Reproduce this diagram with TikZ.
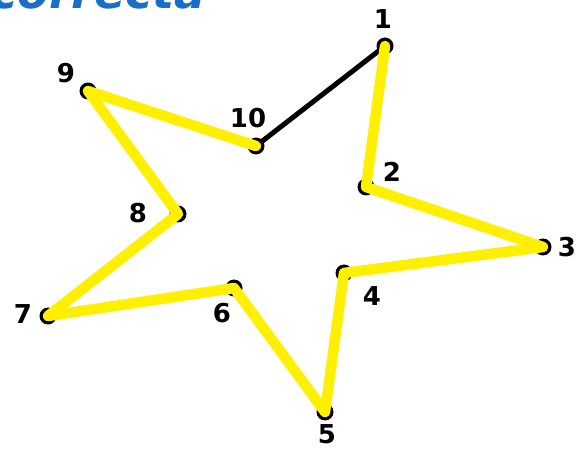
\documentclass[tikz,border=0pt]{standalone}
\usepackage{fontspec}
\setmainfont{DejaVu Sans}
\usetikzlibrary{positioning}
\definecolor{staryellow}{RGB}{255,240,0}
\definecolor{titleblue}{RGB}{25,110,200}

\begin{document}
\begin{tikzpicture}[x=1pt, y=-1pt,
  dot/.style={circle, fill=black, inner sep=0pt, minimum size=17pt},
  lbl/.style={inner sep=0pt, font=\fontsize{26}{26}\selectfont\bfseries},
  link/.style={staryellow, line width=10.5pt, line cap=round, line join=round},
  lastlink/.style={black, line width=5pt, line cap=round}
]
\useasboundingbox (0,0) rectangle (579,449);
\fill[white] (0,0) rectangle (579,449);

% title, cut at the top edge
\node[anchor=base west, inner sep=0pt, text=titleblue,
  font=\fontsize{46}{46}\selectfont\bfseries\itshape] (title) at (-10,9) {correcta};

% points of the star
\coordinate (p1) at (385,46);
\coordinate (p2) at (366,187);
\coordinate (p3) at (543,247);
\coordinate (p4) at (344,273);
\coordinate (p5) at (325,412);
\coordinate (p6) at (234,288);
\coordinate (p7) at (48,316);
\coordinate (p8) at (178,214);
\coordinate (p9) at (88,91);
\coordinate (p10) at (256,146);

\foreach \i in {1,...,10}
  \node[dot] (d\i) at (p\i) {};

% numbers
\node[lbl] (n1) at (383,19) {1};
\node[lbl] (n2) at (392,172) {2};
\node[lbl] (n3) at (567,247) {3};
\node[lbl] (n4) at (372,296) {4};
\node[lbl] (n5) at (327,434) {5};
\node[lbl] (n6) at (222,313) {6};
\node[lbl] (n7) at (23,314) {7};
\node[lbl] (n8) at (138,213) {8};
\node[lbl] (n9) at (66,73) {9};
\node[lbl] (n10) at (248,118) {10};

% connections
\draw[lastlink] (d10.center) -- (d1.center);
\draw[link] (d1.center) -- (d2.center) -- (d3.center) -- (d4.center)
  -- (d5.center) -- (d6.center) -- (d7.center) -- (d8.center)
  -- (d9.center) -- (d10.center);
\end{tikzpicture}
\end{document}
